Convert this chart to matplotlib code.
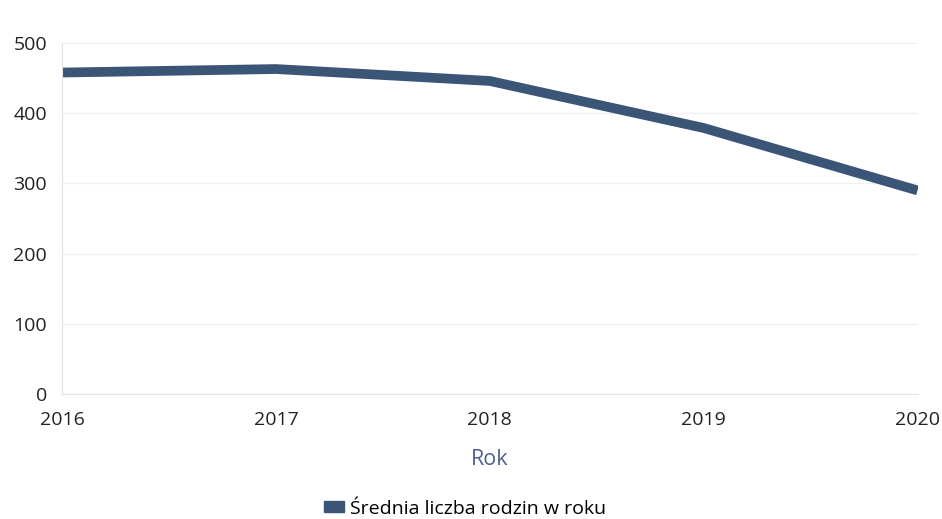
import matplotlib.pyplot as plt
from matplotlib.patches import Patch

years = [2016, 2017, 2018, 2019, 2020]
families = [458, 463, 446, 379, 290]
series_name = "Średnia liczba rodzin w roku"
y_ticks = [0, 100, 200, 300, 400, 500]

plt.rcParams['font.family'] = ['Open Sans', 'DejaVu Sans']
line_color = '#3b5577'

fig = plt.figure(figsize=(9.42, 5.19), dpi=100)
ax = fig.add_axes([0.066, 0.241, 0.908, 0.676])

ax.plot(years, families, color=line_color, linewidth=7, solid_capstyle='butt')

ax.set_xlim(years[0], years[-1])
ax.set_ylim(0, 500)
ax.set_xticks(years)
ax.set_yticks(y_ticks)
ax.tick_params(length=0, labelsize=14, colors='#222222')
ax.tick_params(axis='x', pad=12)
ax.tick_params(axis='y', pad=11)
ax.grid(axis='y', color='#f0f0f0', linewidth=1)
ax.set_axisbelow(True)
for side in ['top', 'right']:
    ax.spines[side].set_visible(False)
for side in ['left', 'bottom']:
    ax.spines[side].set_color('#e4e4e4')

ax.set_xlabel("Rok", fontsize=15.5, color='#505f8e', labelpad=15)

handle = Patch(facecolor=line_color, edgecolor=line_color)
fig.legend([handle], [series_name], loc='center', bbox_to_anchor=(0.494, 0.02),
           frameon=False, fontsize=14, handlelength=1.0, handleheight=0.5,
           handletextpad=0.35)

fig.savefig('out.png', dpi=100)
